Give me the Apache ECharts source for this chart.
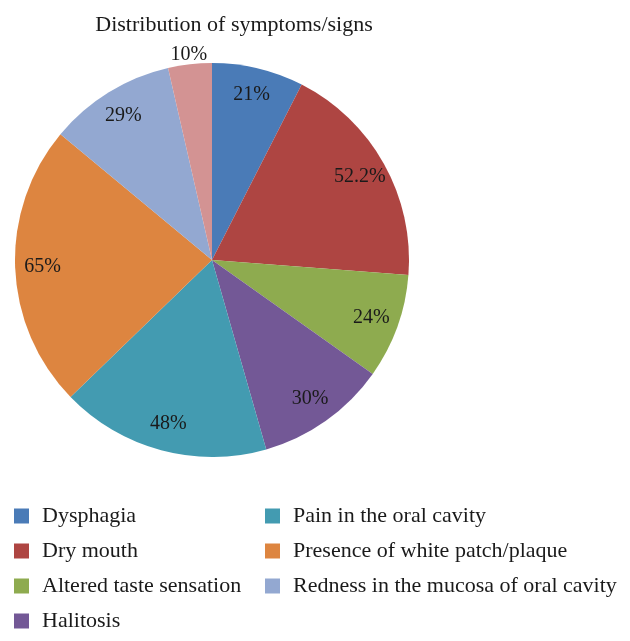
<!DOCTYPE html>
<html>
<head>
<meta charset="utf-8">
<script src="https://cdn.jsdelivr.net/npm/echarts@6/dist/echarts.min.js"></script>
<style>
  html, body { margin: 0; padding: 0; background: #fff; }
  #main { width: 630px; height: 641px; }
</style>
</head>
<body>
<div id="main"></div>
<script>
// 数据
var categories = ['Dysphagia', 'Dry mouth', 'Altered taste sensation', 'Halitosis',
  'Pain in the oral cavity', 'Presence of white patch/plaque',
  'Redness in the mucosa of oral cavity', 'Other'];
var values = [21, 52.2, 24, 30, 48, 65, 29, 10];
var colors = ['#4A7BB7', '#AE4542', '#8EAB4F', '#735896', '#439BB1', '#DD8540', '#93A8D1', '#D39393'];
var legendLeft = ['Dysphagia', 'Dry mouth', 'Altered taste sensation', 'Halitosis'];
var legendRight = ['Pain in the oral cavity', 'Presence of white patch/plaque', 'Redness in the mucosa of oral cavity'];

var font = 'Liberation Serif';
var center = [212, 260];

var pieData = categories.map(function (name, i) {
  return { name: name, value: values[i], itemStyle: { color: colors[i] } };
});
// 透明的叠加层，只用来放标签
var labelData = categories.map(function (name, i) {
  return {
    name: name, value: values[i],
    label: { show: i < categories.length - 1 }
  };
});
var outerLabelData = categories.map(function (name, i) {
  return {
    name: name, value: values[i],
    label: { show: i === categories.length - 1 }
  };
});

var chart = echarts.init(document.getElementById('main'));
chart.setOption({
  animation: false,
  title: {
    text: 'Distribution of symptoms/signs',
    left: 229, top: 9, textAlign: 'center',
    textStyle: { fontFamily: font, fontWeight: 'normal', fontSize: 22, color: '#1a1a1a' }
  },
  legend: [{
    data: legendLeft,
    orient: 'vertical', left: 9, top: 500,
    itemWidth: 15, itemHeight: 15, itemGap: 13,
    icon: 'rect', selectedMode: false,
    textStyle: { fontFamily: font, fontSize: 22, color: '#1a1a1a', padding: [0, 0, 0, 8] }
  }, {
    data: legendRight,
    orient: 'vertical', left: 260, top: 500,
    itemWidth: 15, itemHeight: 15, itemGap: 13,
    icon: 'rect', selectedMode: false,
    textStyle: { fontFamily: font, fontSize: 22, color: '#1a1a1a', padding: [0, 0, 0, 8] }
  }],
  series: [{
    type: 'pie',
    center: center,
    radius: [0, 197],
    startAngle: 90,
    silent: true,
    label: { show: false },
    labelLine: { show: false },
    data: pieData
  }, {
    type: 'pie',
    center: center,
    radius: [136, 197],
    startAngle: 90,
    silent: true,
    itemStyle: { color: 'rgba(0,0,0,0)' },
    label: {
      position: 'inside', formatter: '{c}%',
      fontFamily: font, fontSize: 20, color: '#1a1a1a'
    },
    labelLine: { show: false },
    data: labelData
  }, {
    type: 'pie',
    center: center,
    radius: [192, 216],
    startAngle: 90,
    silent: true,
    itemStyle: { color: 'rgba(0,0,0,0)' },
    label: {
      position: 'inside', formatter: '{c}%',
      fontFamily: font, fontSize: 20, color: '#1a1a1a'
    },
    labelLine: { show: false },
    data: outerLabelData
  }]
});
</script>
</body>
</html>
